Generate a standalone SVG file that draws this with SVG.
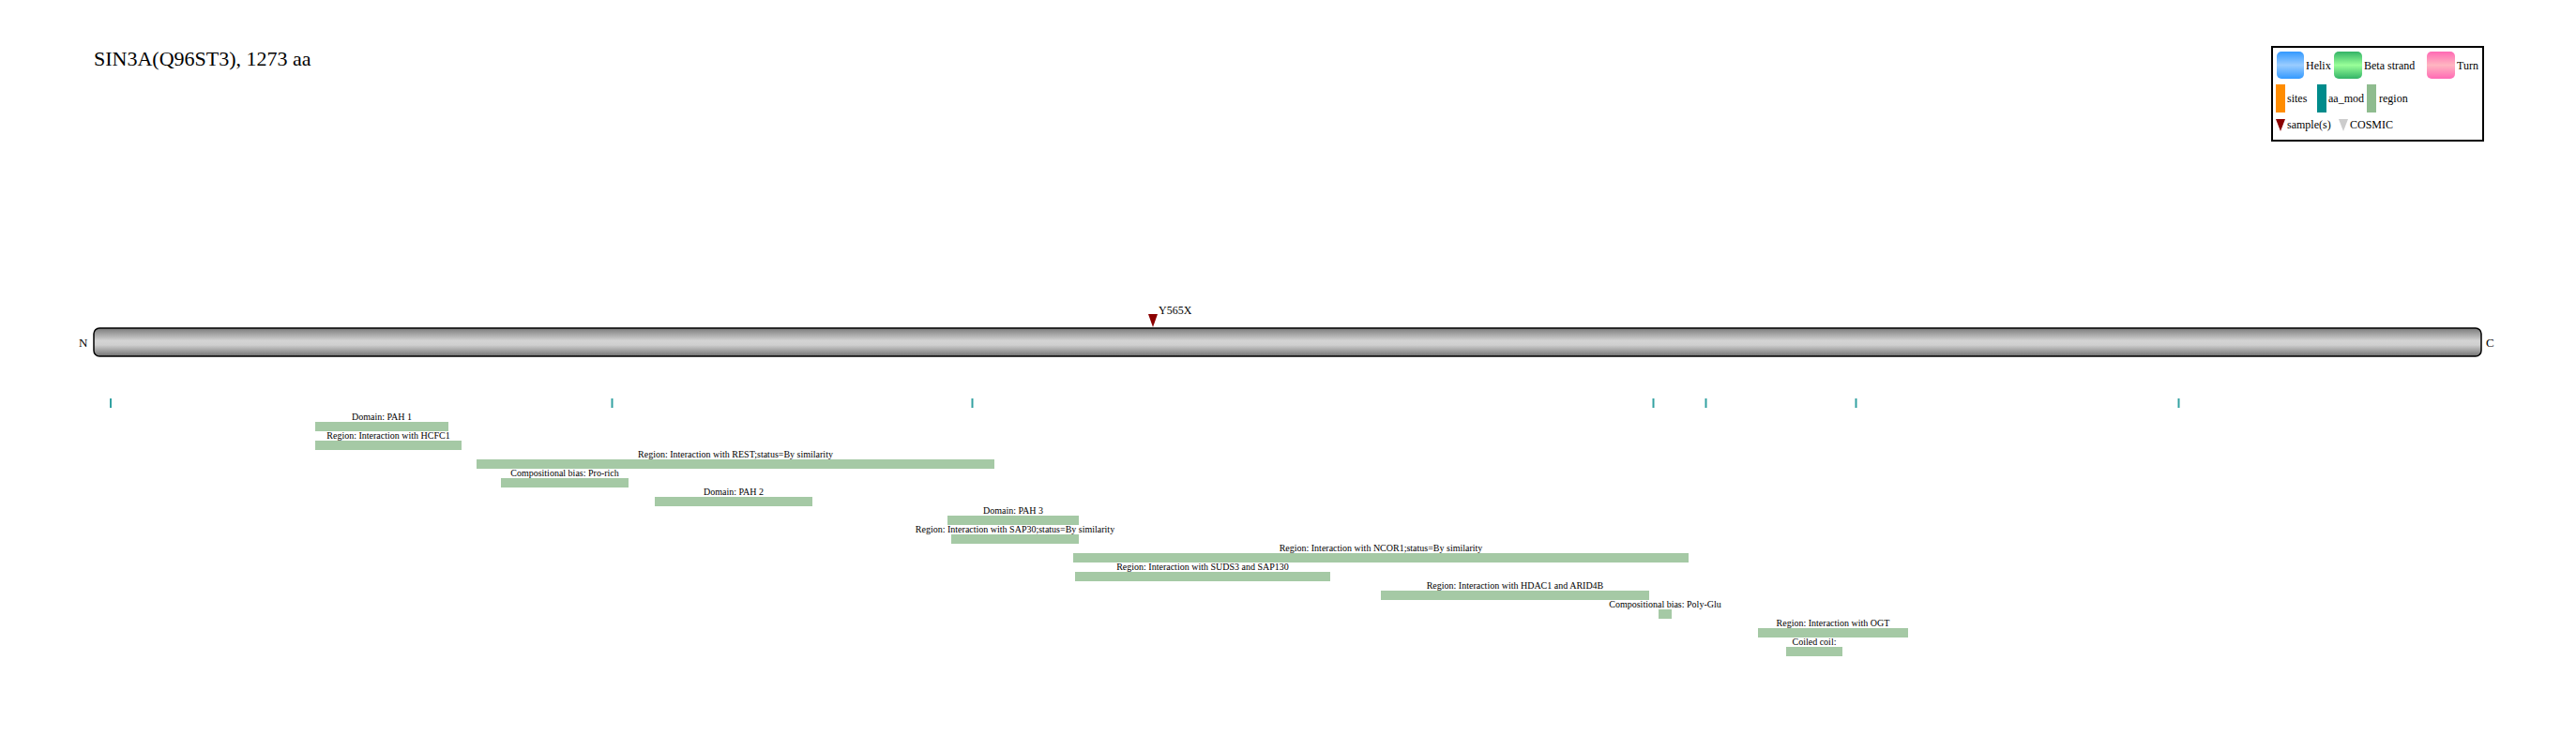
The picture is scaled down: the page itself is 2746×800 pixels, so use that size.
<svg xmlns="http://www.w3.org/2000/svg" width="2746" height="800" viewBox="0 0 2746 800">
<defs>
<linearGradient id="gBar" x1="0" y1="0" x2="0" y2="1">
<stop offset="0" stop-color="#7a7a7a"/>
<stop offset="0.45" stop-color="#d4d4d4"/>
<stop offset="0.6" stop-color="#cfcfcf"/>
<stop offset="1" stop-color="#727272"/>
</linearGradient>
<linearGradient id="gHelix" x1="0" y1="0" x2="0" y2="1">
<stop offset="0" stop-color="#3399ff"/>
<stop offset="0.5" stop-color="#99ccff"/>
<stop offset="1" stop-color="#3399ff"/>
</linearGradient>
<linearGradient id="gBeta" x1="0" y1="0" x2="0" y2="1">
<stop offset="0" stop-color="#33b366"/>
<stop offset="0.5" stop-color="#99ff99"/>
<stop offset="1" stop-color="#33b366"/>
</linearGradient>
<linearGradient id="gTurn" x1="0" y1="0" x2="0" y2="1">
<stop offset="0" stop-color="#ff69b4"/>
<stop offset="0.5" stop-color="#ffb6c1"/>
<stop offset="1" stop-color="#ff69b4"/>
</linearGradient>
</defs>
<style>
text{font-family:"Liberation Serif","Times New Roman",serif;fill:#000}
.title{font-size:22px}
.lab{font-size:10px;text-anchor:middle}
.leg{font-size:12px}
.end{font-size:13px}
.reg{fill:#8fbc8f;fill-opacity:0.8}
.tick{fill:#008b8b;fill-opacity:0.8}
</style>
<rect width="2746" height="800" fill="#ffffff"/>
<text class="title" x="100" y="70">SIN3A(Q96ST3), 1273 aa</text>

<g id="legend">
<rect x="2422" y="50" width="225" height="100" fill="#ffffff" stroke="#000" stroke-width="2"/>
<rect x="2427" y="55" width="29" height="29" rx="5" fill="url(#gHelix)"/>
<text class="leg" x="2458" y="74">Helix</text>
<rect x="2488" y="55" width="30" height="29" rx="5" fill="url(#gBeta)"/>
<text class="leg" x="2520" y="74">Beta strand</text>
<rect x="2587" y="55" width="30" height="29" rx="5" fill="url(#gTurn)"/>
<text class="leg" x="2619" y="74">Turn</text>
<rect x="2426" y="90" width="10" height="30" fill="#ff8c00"/>
<text class="leg" x="2438" y="109">sites</text>
<rect x="2470" y="90" width="10" height="30" fill="#008b8b"/>
<text class="leg" x="2482" y="109">aa_mod</text>
<rect x="2523" y="90" width="10" height="30" fill="#8fbc8f"/>
<text class="leg" x="2536" y="109">region</text>
<polygon points="2426,127 2436,127 2431,140" fill="#8b0000"/>
<text class="leg" x="2438" y="137">sample(s)</text>
<polygon points="2493,127 2503,127 2498,140" fill="#cccccc"/>
<text class="leg" x="2505" y="137">COSMIC</text>
</g>

<g id="protein">
<text class="end" x="84" y="370">N</text>
<rect x="100" y="350" width="2545" height="30" rx="6" fill="url(#gBar)" stroke="#000" stroke-width="1.5"/>
<text class="end" x="2650" y="370">C</text>
</g>

<g id="mutation">
<polygon points="1224,335 1234,335 1229,349" fill="#8b0000"/>
<text x="1235" y="335" font-size="12">Y565X</text>
</g>

<g id="aa_mod">
<rect class="tick" x="117" y="425" width="2" height="10"/>
<rect class="tick" x="651.5" y="425" width="2" height="10"/>
<rect class="tick" x="1035.5" y="425" width="2" height="10"/>
<rect class="tick" x="1761.5" y="425" width="2" height="10"/>
<rect class="tick" x="1817.5" y="425" width="2" height="10"/>
<rect class="tick" x="1977.5" y="425" width="2" height="10"/>
<rect class="tick" x="2321.5" y="425" width="2" height="10"/>
</g>

<g id="regions">
<g id="r1"><text class="lab" x="407" y="448">Domain: PAH 1</text><rect class="reg" x="336" y="450" width="142" height="10"/></g>
<g id="r2"><text class="lab" x="414" y="468">Region: Interaction with HCFC1</text><rect class="reg" x="336" y="470" width="156" height="10"/></g>
<g id="r3"><text class="lab" x="784" y="488">Region: Interaction with REST;status=By similarity</text><rect class="reg" x="508" y="490" width="552" height="10"/></g>
<g id="r4"><text class="lab" x="602" y="508">Compositional bias: Pro-rich</text><rect class="reg" x="534" y="510" width="136" height="10"/></g>
<g id="r5"><text class="lab" x="782" y="528">Domain: PAH 2</text><rect class="reg" x="698" y="530" width="168" height="10"/></g>
<g id="r6"><text class="lab" x="1080" y="548">Domain: PAH 3</text><rect class="reg" x="1010" y="550" width="140" height="10"/></g>
<g id="r7"><text class="lab" x="1082" y="568">Region: Interaction with SAP30;status=By similarity</text><rect class="reg" x="1014" y="570" width="136" height="10"/></g>
<g id="r8"><text class="lab" x="1472" y="588">Region: Interaction with NCOR1;status=By similarity</text><rect class="reg" x="1144" y="590" width="656" height="10"/></g>
<g id="r9"><text class="lab" x="1282" y="608">Region: Interaction with SUDS3 and SAP130</text><rect class="reg" x="1146" y="610" width="272" height="10"/></g>
<g id="r10"><text class="lab" x="1615" y="628">Region: Interaction with HDAC1 and ARID4B</text><rect class="reg" x="1472" y="630" width="286" height="10"/></g>
<g id="r11"><text class="lab" x="1775" y="648">Compositional bias: Poly-Glu</text><rect class="reg" x="1768" y="650" width="14" height="10"/></g>
<g id="r12"><text class="lab" x="1954" y="668">Region: Interaction with OGT</text><rect class="reg" x="1874" y="670" width="160" height="10"/></g>
<g id="r13"><text class="lab" x="1934" y="688">Coiled coil:</text><rect class="reg" x="1904" y="690" width="60" height="10"/></g>
</g>
<g id="connectors"/>
</svg>
